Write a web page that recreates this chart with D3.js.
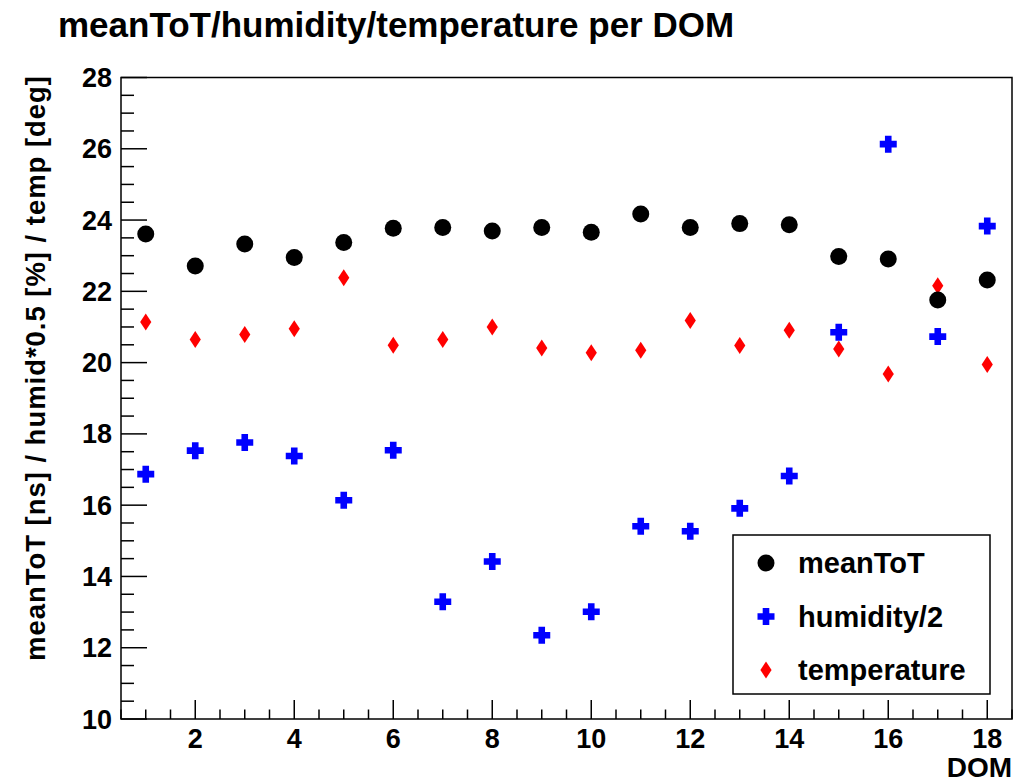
<!DOCTYPE html>
<html>
<head>
<meta charset="utf-8">
<script src="https://cdn.jsdelivr.net/npm/d3@7"></script>
<style>
  body { margin: 0; background: #fff; }
  text { font-family: "Liberation Sans", Arial, Helvetica, sans-serif; font-weight: bold; }
</style>
</head>
<body>
<div id="chart"></div>
<script>
// values, one per DOM
const doms = [1, 2, 3, 4, 5, 6, 7, 8, 9, 10, 11, 12, 13, 14, 15, 16, 17, 18];
const meanToT = [23.61, 22.71, 23.33, 22.95, 23.37, 23.77, 23.79, 23.69, 23.79, 23.66,
    24.17, 23.79, 23.90, 23.87, 22.98, 22.91, 21.76, 22.32];
const humidityHalf = [16.87, 17.53, 17.76, 17.38, 16.14, 17.54, 13.29, 14.42, 12.35, 13.01,
    15.41, 15.27, 15.91, 16.82, 20.85, 26.13, 20.73, 23.83];
const temperature = [21.14, 20.65, 20.79, 20.95, 22.38, 20.49, 20.65, 21.00, 20.41, 20.28,
    20.35, 21.18, 20.48, 20.91, 20.38, 19.68, 22.16, 19.95];
const yTicks = [10, 12, 14, 16, 18, 20, 22, 24, 26, 28];
const xTicks = [2, 4, 6, 8, 10, 12, 14, 16, 18];
const legendNames = ['meanToT', 'humidity/2', 'temperature'];

const W = 1028, H = 783;
const padL = 121, padR = 1012, padT = 77.5, padB = 719;

const svg = d3.select('#chart').append('svg')
    .attr('width', W)
    .attr('height', H);

const x = d3.scaleLinear().domain([0.5, 18.5]).range([padL, padR]);
const y = d3.scaleLinear().domain([10, 28]).range([padB, padT]);

// title
svg.append('text')
    .attr('x', 58)
    .attr('y', 37)
    .attr('font-size', 35)
    .text('meanToT/humidity/temperature per DOM');

// ticks, major + minor
const yMinor = d3.range(10, 28.01, 0.5);
const xMinor = d3.range(0.5, 18.51, 0.5);

svg.append('g').selectAll('line').data(yMinor).enter().append('line')
    .attr('x1', padL)
    .attr('x2', function (d) { return padL + (yTicks.indexOf(d) >= 0 ? 26 : 13); })
    .attr('y1', y).attr('y2', y)
    .attr('stroke', '#000').attr('stroke-width', 1.5);

svg.append('g').selectAll('line').data(xMinor).enter().append('line')
    .attr('x1', x).attr('x2', x)
    .attr('y1', padB)
    .attr('y2', function (d) { return padB - (xTicks.indexOf(d) >= 0 ? 19 : 9.5); })
    .attr('stroke', '#000').attr('stroke-width', 1.5);

// frame
svg.append('rect')
    .attr('x', padL).attr('y', padT)
    .attr('width', padR - padL).attr('height', padB - padT)
    .attr('fill', 'none').attr('stroke', '#000').attr('stroke-width', 1.5);

// tick labels
svg.append('g').selectAll('text').data(yTicks).enter().append('text')
    .attr('x', 112)
    .attr('y', function (d) { return y(d) + 9.5; })
    .attr('text-anchor', 'end')
    .attr('font-size', 27)
    .text(function (d) { return d; });

svg.append('g').selectAll('text').data(xTicks).enter().append('text')
    .attr('x', x)
    .attr('y', 748)
    .attr('text-anchor', 'middle')
    .attr('font-size', 27)
    .text(function (d) { return d; });

// axis titles
svg.append('text')
    .attr('x', padR)
    .attr('y', 777)
    .attr('text-anchor', 'end')
    .attr('font-size', 28)
    .text('DOM');

svg.append('text')
    .attr('transform', 'translate(45 76) rotate(-90)')
    .attr('text-anchor', 'end')
    .attr('font-size', 27.5)
    .attr('textLength', 585)
    .attr('lengthAdjust', 'spacing')
    .text('meanToT [ns] / humid*0.5 [%] / temp [deg]');

// markers
function circle(g) {
    g.append('circle').attr('r', 8.5).attr('fill', '#000');
}
function cross(g) {
    g.append('path')
        .attr('d', 'M-3.3,-8.5h6.6v5.2h5.2v6.6h-5.2v5.2h-6.6v-5.2h-5.2v-6.6h5.2z')
        .attr('fill', '#0000ff');
}
function diamond(g) {
    g.append('path')
        .attr('d', 'M0,-8.5L5.6,0L0,8.5L-5.6,0z')
        .attr('fill', '#ff0000');
}

const series = [
    { values: meanToT, draw: circle },
    { values: humidityHalf, draw: cross },
    { values: temperature, draw: diamond }
];
// draw order: temperature, humidity, then meanToT on top
[series[2], series[1], series[0]].forEach(function (s) {
    svg.append('g').selectAll('g').data(doms).enter().append('g')
        .attr('transform', function (d, i) {
            return 'translate(' + [x(d), y(s.values[i])] + ')';
        })
        .each(function () { s.draw(d3.select(this)); });
});

// legend
const leg = svg.append('g');
leg.append('rect')
    .attr('x', 733).attr('y', 535)
    .attr('width', 257).attr('height', 159)
    .attr('fill', '#fff').attr('stroke', '#000').attr('stroke-width', 1.5);
const legY = d3.scalePoint().domain(legendNames).range([563, 670]);
legendNames.forEach(function (name, i) {
    const g = leg.append('g').attr('transform', 'translate(766 ' + legY(name) + ')');
    series[i].draw(g);
    leg.append('text')
        .attr('x', 798)
        .attr('y', legY(name) + 10)
        .attr('font-size', 29)
        .text(name);
});
</script>
</body>
</html>
